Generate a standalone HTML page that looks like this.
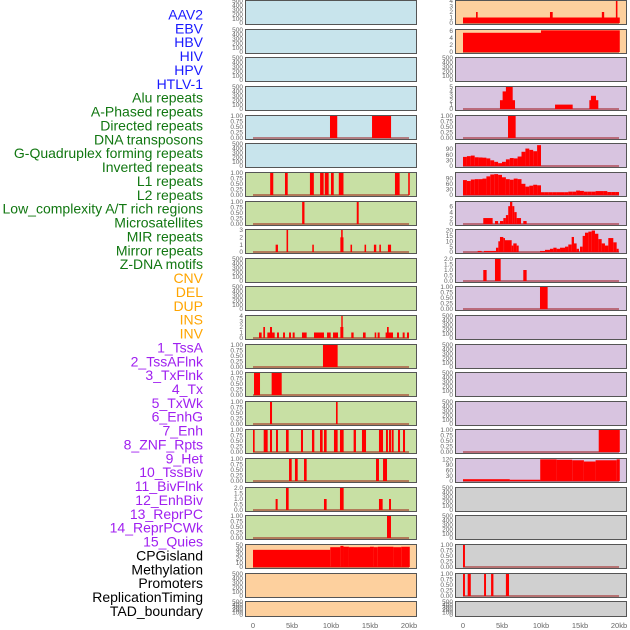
<!DOCTYPE html>
<html><head><meta charset="utf-8">
<style>
html,body{margin:0;padding:0;background:#fff;}
svg{display:block;font-family:"Liberation Sans",sans-serif;}
</style></head>
<body>
<svg id="chart" width="630" height="630" viewBox="0 0 630 630">
<g id="labels"></g>
<g id="panels"></g>
<g id="xaxes"></g>
</svg>
<script>
// ---- track labels ----
const trackNames = ["AAV2","EBV","HBV","HIV","HPV","HTLV-1","Alu repeats","A-Phased repeats","Directed repeats","DNA transposons","G-Quadruplex forming repeats","Inverted repeats","L1 repeats","L2 repeats","Low_complexity A/T rich regions","Microsatellites","MIR repeats","Mirror repeats","Z-DNA motifs","CNV","DEL","DUP","INS","INV","1_TssA","2_TssAFlnk","3_TxFlnk","4_Tx","5_TxWk","6_EnhG","7_Enh","8_ZNF_Rpts","9_Het","10_TssBiv","11_BivFlnk","12_EnhBiv","13_ReprPC","14_ReprPCWk","15_Quies","CPGisland","Methylation","Promoters","ReplicationTiming","TAD_boundary"];
const trackGroups = [0,0,0,0,0,0,1,1,1,1,1,1,1,1,1,1,1,1,1,2,2,2,2,2,3,3,3,3,3,3,3,3,3,3,3,3,3,3,3,4,4,4,4,4];
const groupColors = ["#1a1aff","#117711","#ffa500","#a020f0","#000000"];

// ---- tick sets ----
const ticksEmpty = [0,100,200,300,400,500];
const ticksUnit = [0,0.25,0.5,0.75,1];
const ticks0to3 = [0,1,2,3];
const ticks0to4 = [0,1,2,3,4];
const ticks0to5 = [0,1,2,3,4,5];
const ticks0to2 = [0,0.5,1,1.5,2];
const ticksEven6 = [0,2,4,6];
const ticks90 = [0,30,60,90];
const ticks120 = [0,30,60,90,120];
const ticks20 = [0,5,10,15,20];
const ticks50 = [0,10,20,30,40,50];

// ---- series (start kb, end kb, value) ----
const L5_bars = [[9.87,10.8,1],[15.26,17.7,1]];
const L7_bars = [[2.2,2.6,1],[4.1,4.45,1],[7.3,7.8,1],[8.6,9.06,1],[9.2,9.7,1],[10.0,10.35,1],[11.0,11.6,1],[18.2,18.8,1],[19.9,20.1,1]];
const L8_bars = [[6.3,6.6,1],[13.3,13.55,1]];
const L9_bars = [[2.9,3.2,1],[4.3,4.5,3],[7.6,7.8,1],[11.2,11.6,2],[11.3,11.5,3],[12.5,12.7,1],[14.3,14.5,1],[15.5,15.8,1],[16.2,16.4,1],[17.3,17.7,1]];
const L12_bars = [[0.77,1.11,1],[1.32,1.54,2],[1.84,2.18,1],[2.18,2.44,2],[2.44,2.78,1],[3.08,3.33,1],[3.85,4.1,1],[4.62,4.87,1],[5.09,5.34,1],[6.28,6.88,1],[7.82,9.1,1],[9.49,9.96,1],[10.26,10.9,1],[11.2,11.58,2],[11.32,11.5,4],[12.6,12.9,1],[14.1,14.44,1],[15.6,15.8,1],[15.98,16.24,1],[17.0,17.95,1],[17.18,17.4,2],[18.46,18.72,1],[19.19,19.44,1],[19.74,20.0,1]];
const L13_bars = [[8.97,10.85,1]];
const L14_bars = [[0.13,0.9,1],[2.39,3.68,1]];
const L15_bars = [[2.18,2.44,1],[10.64,10.85,1]];
const L16_bars = [[0,0.21,1],[1.37,1.88,1],[2.18,2.44,1],[2.95,3.2,1],[4.23,4.57,1],[6.15,6.41,1],[7.56,7.86,1],[8.59,8.93,1],[9.1,9.44,1],[10.38,10.85,1],[11.15,11.62,1],[12.9,13.2,1],[13.97,14.49,1],[16.15,16.67,1],[17.05,17.3,1],[17.44,17.69,1],[17.78,18.03,1],[18.59,18.85,1],[19.23,19.49,1]];
const L17_bars = [[4.62,4.96,1],[5.38,5.73,1],[6.54,6.88,1],[15.77,16.15,1],[16.67,17.18,1]];
const L18_bars = [[2.9,3.16,1],[4.23,4.57,2],[9.1,9.44,1],[11.15,11.62,2],[16.15,16.62,1],[17.44,17.69,1]];
const L19_bars = [[17.18,17.69,1]];
const L20_bars = [[0,9.9,39],[9.9,11.2,45],[11.2,11.6,48],[11.6,12.3,46],[12.3,15,45],[15,15.5,46],[15.5,16,45],[16,18,46],[18,19,45],[19,20.1,46]];

const R1_bars = [[0,20.1,1],[1.67,1.88,2],[11.15,11.5,2],[17.8,18.1,2],[19.6,19.8,4]];
const R2_bars = [[0,10,5.5],[10,20.1,6.2]];
const R4_bars = [[4.74,6.67,2],[5.08,6.32,4],[5.5,6.37,5],[11.8,14.06,1],[16.2,17.35,2],[16.4,17.05,3]];
const R5_bars = [[5.77,6.75,1]];
const R6_vals = [48,52,55,46,45,44,40,30,22,15,22,35,42,40,50,75,92,85,78,110];
const R7_vals = [80,75,83,85,85,88,100,110,112,108,95,85,82,88,85,60,45,50,55,52,15,15,15,15,15,15,15,18,18,24,22,18,18,18,21,21,21,16,16,16];
const R8_bars = [[2.6,3.8,2],[4.1,4.5,1],[4.74,5.17,1],[5.17,5.5,2],[5.5,5.8,3],[5.8,6.03,6],[6.03,6.32,7.4],[6.32,6.58,6],[6.58,6.88,4],[6.88,7.44,2],[7.73,8.16,1]];
const R9_bars = [[1.88,2.39,1],[2.69,4.23,1],[4.23,4.53,4],[4.53,4.74,10],[4.74,5.17,14],[5.17,5.38,13],[5.38,6.24,11],[6.24,6.45,6],[6.45,6.88,8],[6.88,7.14,6],[9.87,10.51,1],[10.51,11.15,2],[11.15,11.58,3],[11.58,12.0,4],[12.0,12.44,3],[12.44,13.08,4],[13.08,13.5,5],[13.5,13.93,7],[13.93,14.23,14],[14.23,14.57,8],[14.57,14.87,3],[15.0,15.34,5],[15.34,15.64,15],[15.64,16.07,18],[16.07,16.5,19],[16.5,16.92,20],[16.92,17.35,17],[17.35,17.78,12],[17.78,18.2,8],[18.2,18.63,6],[18.63,19.27,13],[19.27,19.7,9],[19.7,19.96,3]];
const R10_bars = [[2.6,3.03,1],[4.1,4.83,2],[7.73,8.16,1]];
const R11_bars = [[9.87,10.85,1]];
const R16_bars = [[17.4,20.1,1]];
const R17_bars = [[0,6,10],[6,9.9,7],[9.9,12,120],[12,14,118],[14,15.5,115],[15.5,17,108],[17,19.7,115],[19.7,20.1,120]];
const R20_bars = [[0,0.25,1]];
const R21_bars = [[0,0.25,1],[0.6,1.0,1],[2.7,2.95,1],[3.6,3.9,1],[5.5,5.9,1]];

const xTickVals = [0,5,10,15,20];
const xTickLabels = ["0","5kb","10kb","15kb","20kb"];

function binsToBars(vals, width){ return vals.map((v,i)=>[i*width, Math.min((i+1)*width,20.1), v]); }

const BLUE="#c8e4ec", GREEN="#c8e0a4", PEACH="#fdd09e", LAV="#d8c4e0", GREY="#d0d0d0";
const leftCfg = [
 [BLUE,null,ticksEmpty,500],[BLUE,null,ticksEmpty,500],[BLUE,null,ticksEmpty,500],[BLUE,null,ticksEmpty,500],
 [BLUE,L5_bars,ticksUnit,1],[BLUE,null,ticksEmpty,500],[GREEN,L7_bars,ticksUnit,1],[GREEN,L8_bars,ticksUnit,1],
 [GREEN,L9_bars,ticks0to3,3],[GREEN,null,ticksEmpty,500],[GREEN,null,ticksEmpty,500],[GREEN,L12_bars,ticks0to4,4],
 [GREEN,L13_bars,ticksUnit,1],[GREEN,L14_bars,ticksUnit,1],[GREEN,L15_bars,ticksUnit,1],[GREEN,L16_bars,ticksUnit,1],
 [GREEN,L17_bars,ticksUnit,1],[GREEN,L18_bars,ticks0to2,2],[GREEN,L19_bars,ticksUnit,1],[PEACH,L20_bars,ticks50,50],
 [PEACH,null,ticksEmpty,500],[PEACH,null,ticksEmpty,500]];
const rightCfg = [
 [PEACH,R1_bars,ticks0to4,4],[PEACH,R2_bars,ticksEven6,6.3],[LAV,null,ticksEmpty,500],[LAV,R4_bars,ticks0to5,5],
 [LAV,R5_bars,ticksUnit,1],[LAV,binsToBars(R6_vals,0.5),ticks90,116],[LAV,binsToBars(R7_vals,0.5),ticks90,118],[LAV,R8_bars,ticksEven6,7.4],
 [LAV,R9_bars,ticks20,20.5],[LAV,R10_bars,ticks0to2,2],[LAV,R11_bars,ticksUnit,1],[LAV,null,ticksEmpty,500],
 [LAV,null,ticksEmpty,500],[LAV,null,ticksEmpty,500],[LAV,null,ticksEmpty,500],[LAV,R16_bars,ticksUnit,1],
 [LAV,R17_bars,ticks120,122],[GREY,null,ticksEmpty,500],[GREY,null,ticksEmpty,500],[GREY,R20_bars,ticksUnit,1],
 [GREY,R21_bars,ticksUnit,1],[GREY,null,ticksEmpty,500]];

const panelTops = [0,29,57,86,115,143,172,201,229,258,286,315,344,372,401,429,458,487,515,544,573,601];
const NS="http://www.w3.org/2000/svg";
function mk(tag, attrs, parent){ const e=document.createElementNS(NS,tag); for(const k in attrs) e.setAttribute(k,attrs[k]); parent.appendChild(e); return e; }

// labels
const lg=document.getElementById('labels');
trackNames.forEach((n,i)=>{
  const t=mk('text',{x:203,y:(19.5+i*13.87).toFixed(1),'text-anchor':'end','font-size':'14',fill:groupColors[trackGroups[i]]},lg);
  
  
  t.textContent=n;
});

function fmtTick(v, ticks){
  const dec = ticks.some(t=>Math.abs(t-Math.round(t))>1e-9 && Math.abs(t*2-Math.round(t*2))>1e-9) ? 2 : (ticks.some(t=>Math.abs(t-Math.round(t))>1e-9) ? 1 : 0);
  return v.toFixed(dec);
}

const pg=document.getElementById('panels');
function drawPanel(cfg, left, top, h, side, idx){
  const [bg,bars,ticks,ymax]=cfg;
  const w=171, x0=left+8, kbPx=7.8;
  const xs=kb=>x0+kb*kbPx;
  const ys=v=>top+h-1-(v/ymax)*(h-2);
  const g=mk('g',{},pg);
  
  
  mk('rect',{x:left+0.5,y:top+0.5,width:w,height:h,fill:bg,stroke:'#555','stroke-width':1},g);
  ticks.forEach(tv=>{
    const t=mk('text',{x:left-2,y:(ys(tv)+2.2).toFixed(1),'text-anchor':'end','font-size':'6.5',fill:'#666'},g);
    
    
    t.textContent=fmtTick(tv,ticks);
  });
  if(bars){
    mk('line',{x1:xs(0),x2:xs(20),y1:top+h-1,y2:top+h-1,stroke:'rgba(150,0,0,0.45)','stroke-width':2},g);
    bars.forEach(b=>{
      const r=mk('rect',{x:xs(b[0]).toFixed(2),y:ys(b[2]).toFixed(2),width:Math.max(1,(b[1]-b[0])*kbPx).toFixed(2),height:(top+h-1-ys(b[2])).toFixed(2),fill:'#ff0000'},g);
      
      
    });
  }
}
panelTops.forEach((t,i)=>{
  const h = i===panelTops.length-1 ? 15 : 24;
  drawPanel(leftCfg[i],245,t,h,'left',i);
  drawPanel(rightCfg[i],455,t,h,'right',i);
});

const xg=document.getElementById('xaxes');
[253,463].forEach(x0=>{
  xTickVals.forEach((v,i)=>{
    const t=mk('text',{x:x0+v*7.8,y:628,'text-anchor':'middle','font-size':'7.5',fill:'#666'},xg);
    
    
    t.textContent=xTickLabels[i];
  });
});
</script>
</body></html>
